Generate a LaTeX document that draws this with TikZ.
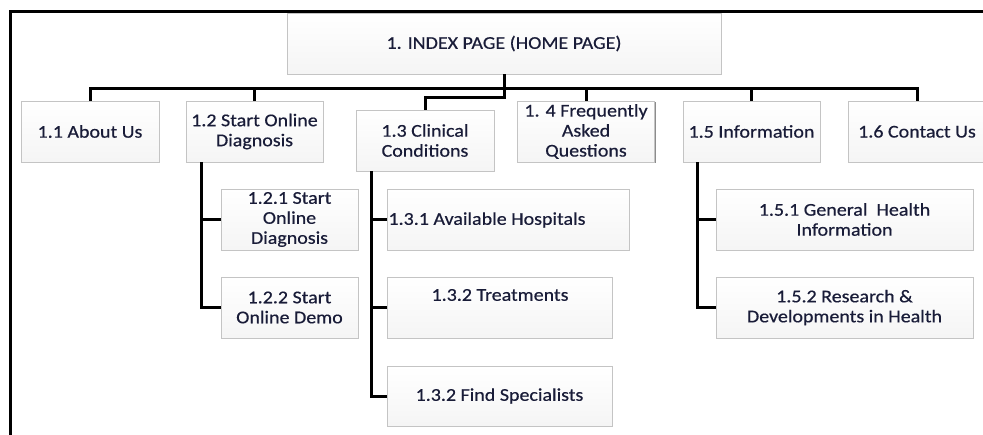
\documentclass[tikz,border=0pt]{standalone}
\usepackage{fontspec}
\setmainfont{Carlito}[FakeStretch=1.11,FakeBold=0.5]
\usetikzlibrary{shadows}
\definecolor{txt}{HTML}{191C38}
\definecolor{bord}{HTML}{C4C4C4}
\begin{document}
\begin{tikzpicture}[x=1pt,y=-1pt,
  box/.style={draw=bord, line width=0.8pt, top color=white, bottom color=black!4,
    inner sep=0pt, align=center, text=txt, font=\fontsize{18}{20}\selectfont,
    general shadow={fill=black!45, shadow xshift=1.4pt, shadow yshift=-1.4pt}},
  lbl/.style={text=txt, font=\fontsize{18}{20}\selectfont, align=center, inner sep=0pt},
  conn/.style={line width=3pt, black}]
\useasboundingbox (0,0) rectangle (983,434);
% frame
\draw[line width=3pt] (10.5,440) -- (10.5,11) -- (990,11);
% boxes
\node[box, minimum width=434pt, minimum height=61pt] (idx) at (504,43.5) {1. INDEX PAGE (HOME PAGE)};
\node[box, minimum width=138pt, minimum height=61pt] (c11) at (90,131.5) {1.1 About Us};
\node[box, minimum width=137pt, minimum height=61pt] (c12) at (254.5,131.5) {1.2 Start Online\\Diagnosis};
\node[box, minimum width=138pt, minimum height=61pt] (c13) at (425,140.5) {1.3 Clinical\\Conditions};
\node[box, minimum width=137pt, minimum height=61pt] (c14) at (586,131.5) {1. 4 Frequently\\Asked\\Questions};
\node[box, minimum width=137pt, minimum height=61pt] (c15) at (751.5,131.5) {1.5 Information};
\node[box, minimum width=138pt, minimum height=61pt] (c16) at (917,131.5) {1.6 Contact Us};
\node[box, minimum width=137pt, minimum height=61pt] (c121) at (289.5,219.5) {1.2.1 Start\\Online\\Diagnosis};
\node[box, minimum width=137pt, minimum height=61pt] (c122) at (289.5,307.5) {1.2.2 Start\\Online Demo};
\node[box, minimum width=242pt, minimum height=61pt] (c131) at (508,219.5) {};
\node[lbl] (t131) at (487,220) {1.3.1 Available Hospitals};
\node[box, minimum width=225pt, minimum height=61pt] (c132) at (499.5,307.5) {};
\node[lbl] (t132) at (500,295) {1.3.2 Treatments};
\node[box, minimum width=225pt, minimum height=60pt] (c133) at (499.5,396) {1.3.2 Find Specialists};
\node[box, minimum width=257pt, minimum height=61pt] (c151) at (844.5,219.5) {1.5.1 General\ \ Health\\Information};
\node[box, minimum width=257pt, minimum height=61pt] (c152) at (844.5,307.5) {1.5.2 Research \&\\Developments in Health};
% top connectors
\coordinate (bar) at (90,88);
\draw[conn] (c11.north) -- (c11.north |- bar) -| (c16.north);
\draw[conn] (c12.north) -- (c12.north |- bar);
\draw[conn] (c14.north) -- (c14.north |- bar);
\draw[conn] (c15.north) -- (c15.north |- bar);
\coordinate (jog) at (504,97);
\draw[conn] (idx.south) -- (jog) -| (c13.north);
% 1.2 children
\coordinate (s12) at (201,162);
\draw[conn] (s12) |- (c122.west);
\draw[conn] (c121.west) -- (c121.west -| s12);
% 1.3 children
\coordinate (s13) at (371,171);
\draw[conn] (s13) |- (c133.west);
\draw[conn] (c131.west) -- (c131.west -| s13);
\draw[conn] (c132.west) -- (c132.west -| s13);
% 1.5 children
\coordinate (s15) at (697,162);
\draw[conn] (s15) |- (c152.west);
\draw[conn] (c151.west) -- (c151.west -| s15);
\end{tikzpicture}
\end{document}
